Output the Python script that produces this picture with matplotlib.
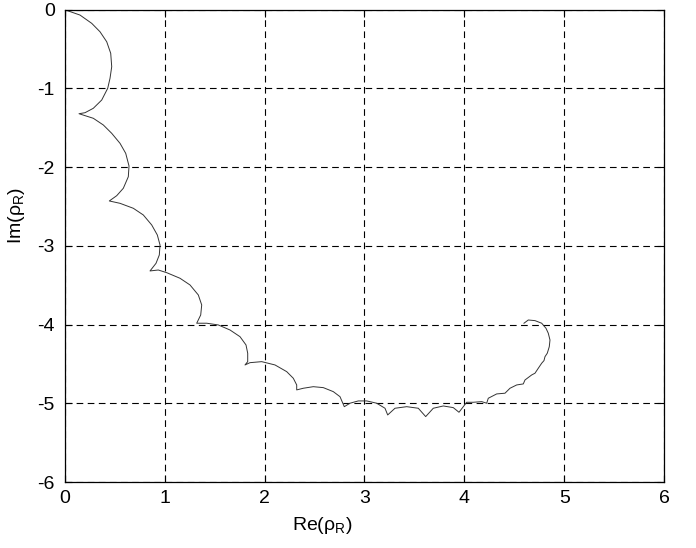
import matplotlib
matplotlib.use("Agg")
import matplotlib.pyplot as plt

re_rho = [0.0, 0.155, 0.272, 0.355, 0.422, 0.462, 0.472, 0.455, 0.432, 0.372, 0.288, 0.205, 0.145,
          0.288, 0.388, 0.472, 0.555, 0.612, 0.645, 0.638, 0.588, 0.522, 0.448,
          0.555, 0.688, 0.788, 0.872, 0.928, 0.955, 0.948, 0.915, 0.855,
          0.938, 1.022, 1.155, 1.255, 1.338, 1.372, 1.362, 1.322,
          1.422, 1.538, 1.655, 1.755, 1.815, 1.832, 1.832, 1.805,
          1.855, 1.972, 2.105, 2.222, 2.288, 2.322, 2.322,
          2.388, 2.488, 2.588, 2.688, 2.755, 2.798,
          2.855, 2.938, 3.022, 3.122, 3.205, 3.232,
          3.305, 3.422, 3.538, 3.612,
          3.688, 3.788, 3.888, 3.945,
          3.988, 4.022, 4.088, 4.172, 4.222,
          4.238, 4.322, 4.405, 4.455, 4.522, 4.588,
          4.605, 4.672, 4.705, 4.738, 4.772, 4.795, 4.805, 4.828, 4.848, 4.855,
          4.838, 4.815, 4.772, 4.705, 4.638, 4.595]
im_rho = [0.0, -0.069, -0.174, -0.281, -0.408, -0.555, -0.725, -0.872, -0.999, -1.148, -1.253, -1.309, -1.322,
          -1.380, -1.465, -1.571, -1.698, -1.825, -1.986, -2.122, -2.269, -2.363, -2.430,
          -2.460, -2.523, -2.608, -2.735, -2.862, -2.989, -3.116, -3.222, -3.319,
          -3.307, -3.341, -3.412, -3.497, -3.624, -3.751, -3.878, -3.983,
          -3.983, -4.005, -4.069, -4.154, -4.259, -4.364, -4.471, -4.513,
          -4.484, -4.471, -4.513, -4.598, -4.682, -4.767, -4.830,
          -4.809, -4.789, -4.801, -4.852, -4.916, -5.043,
          -4.999, -4.970, -4.970, -4.999, -5.063, -5.148,
          -5.063, -5.043, -5.063, -5.169,
          -5.063, -5.034, -5.055, -5.114,
          -5.043, -4.987, -4.987, -4.979, -4.999,
          -4.936, -4.881, -4.872, -4.809, -4.767, -4.754,
          -4.704, -4.640, -4.618, -4.555, -4.491, -4.458, -4.408, -4.364, -4.281, -4.196,
          -4.110, -4.047, -3.983, -3.950, -3.942, -3.983]

x_ticks = [0, 1, 2, 3, 4, 5, 6]
y_ticks = [0, -1, -2, -3, -4, -5, -6]

plt.rcParams['font.family'] = ['Liberation Sans', 'DejaVu Sans']
plt.rcParams['axes.unicode_minus'] = False
plt.rcParams['mathtext.default'] = 'regular'

fig = plt.figure(figsize=(6.96, 5.48), dpi=100)
ax = fig.add_axes([0.0927, 0.1204, 0.862, 0.862])

ax.plot(re_rho, im_rho, color='#333333', linewidth=0.7)

ax.set_xlim(0, 6)
ax.set_ylim(-6, 0)
ax.set_xticks(x_ticks)
ax.set_yticks(y_ticks)
ax.tick_params(direction='in', top=True, right=True, length=5, labelsize=14, width=0.8)
ax.tick_params(axis='y', pad=7)
ax.tick_params(axis='x', pad=6)
ax.grid(True, color='black', linestyle=(0, (6, 4)), linewidth=0.8)
for s in ax.spines.values():
    s.set_linewidth(0.9)

ax.set_xlabel('Re(ρ$_{R}$)', fontsize=14, labelpad=5)
ax.xaxis.set_label_coords(0.43, -0.07)
ax.set_ylabel('Im(ρ$_{R}$)', fontsize=14, labelpad=8)
ax.yaxis.set_label_coords(-0.062, 0.565)

fig.savefig('out.png', dpi=100)
